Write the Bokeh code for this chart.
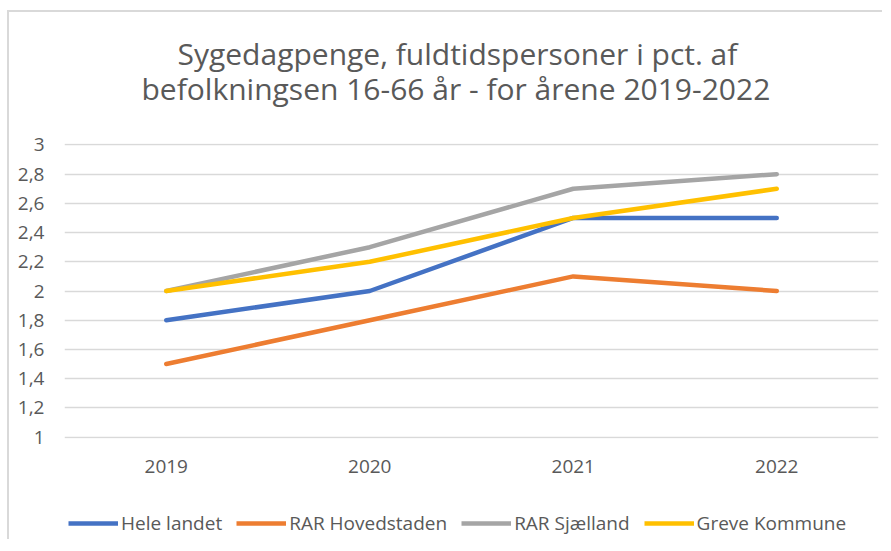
from bokeh.plotting import figure
from bokeh.layouts import column
from bokeh.models import (FixedTicker, CustomJSTickFormatter, Legend, LegendItem, Title)
from bokeh.embed import file_html
from bokeh.resources import INLINE

# ---- data ----
years = ["2019", "2020", "2021", "2022"]
hele_landet = [1.8, 2.0, 2.5, 2.5]
rar_hovedstaden = [1.5, 1.8, 2.1, 2.0]
rar_sjaelland = [2.0, 2.3, 2.7, 2.8]
greve_kommune = [2.0, 2.2, 2.5, 2.7]
series_names = ["Hele landet", "RAR Hovedstaden", "RAR Sjælland", "Greve Kommune"]
y_ticks = [1.0, 1.2, 1.4, 1.6, 1.8, 2.0, 2.2, 2.4, 2.6, 2.8, 3.0]
title_line1 = "Sygedagpenge, fuldtidspersoner i pct. af"
title_line2 = "befolkningsen 16-66 år - for årene 2019-2022"

colors = ["#4472C4", "#ED7D31", "#A5A5A5", "#FFC000"]
FONT = "Open Sans"
TXT = "#595959"
LW = 4.5

p = figure(x_range=years, y_range=(0.99, 3.01),
           frame_width=814, frame_height=295,
           output_backend="svg", toolbar_location=None,
           min_border_left=55, min_border_right=4,
           min_border_top=131, min_border_bottom=45)
p.outline_line_color = None
p.background_fill_color = "white"
p.border_fill_color = "white"

series = [hele_landet, rar_hovedstaden, rar_sjaelland, greve_kommune]
for vals, col in zip(series, colors):
    p.line(years, vals, line_color=col, line_width=LW,
           line_cap="round", line_join="round")

# axes
p.xgrid.grid_line_color = None
p.ygrid.grid_line_color = "#D9D9D9"
p.ygrid.grid_line_width = 1.5
p.yaxis.ticker = FixedTicker(ticks=y_ticks)
p.yaxis.formatter = CustomJSTickFormatter(
    code="var s = (Math.round(tick*10)/10).toString(); return s.replace('.', ',');")
for ax in (p.xaxis[0], p.yaxis[0]):
    ax.axis_line_color = None
    ax.major_tick_line_color = None
    ax.minor_tick_line_color = None
    ax.major_label_text_font = FONT
    ax.major_label_text_font_size = "19px"
    ax.major_label_text_color = TXT
p.yaxis.major_label_standoff = 14
p.xaxis.major_label_standoff = 15

# title: spacer + two centred lines (first added = nearest the plot)
p.add_layout(Title(text=" ", text_font_size="1px", standoff=32), "above")
p.add_layout(Title(text=title_line2, align="left", offset=77, text_font=FONT,
                   text_font_size="30px", text_font_style="normal",
                   text_color=TXT, standoff=0), "above")
p.add_layout(Title(text=title_line1, align="left", offset=113, text_font=FONT,
                   text_font_size="30px", text_font_style="normal",
                   text_color=TXT, standoff=-16), "above")

# legend strip underneath the chart (series drawn out of view, only for the legend keys)
leg = figure(width=873, height=56, x_range=years, y_range=(10, 11),
             output_backend="svg", toolbar_location=None,
             min_border_left=0, min_border_right=0, min_border_top=0, min_border_bottom=0)
leg.axis.visible = False
leg.grid.grid_line_color = None
leg.outline_line_color = None
leg.border_fill_color = "white"
leg_renderers = [leg.line(years, vals, line_color=c, line_width=LW)
                 for vals, c in zip(series, colors)]
legend = Legend(items=[LegendItem(label=n, renderers=[r]) for n, r in zip(series_names, leg_renderers)],
                orientation="horizontal", location=(4, 3),
                glyph_width=50, glyph_height=20, label_standoff=3, spacing=14,
                padding=0, margin=0, border_line_color=None, background_fill_alpha=0,
                label_text_font=FONT, label_text_font_size="19px", label_text_color=TXT)
leg.add_layout(legend, "center")

layout = column(p, leg, spacing=0)
layout.styles = {"border-top": "2px solid #d9d9d9", "border-left": "2px solid #d9d9d9",
                 "margin-top": "10px", "margin-left": "7px"}

open("out.html", "w").write(file_html(layout, INLINE))
